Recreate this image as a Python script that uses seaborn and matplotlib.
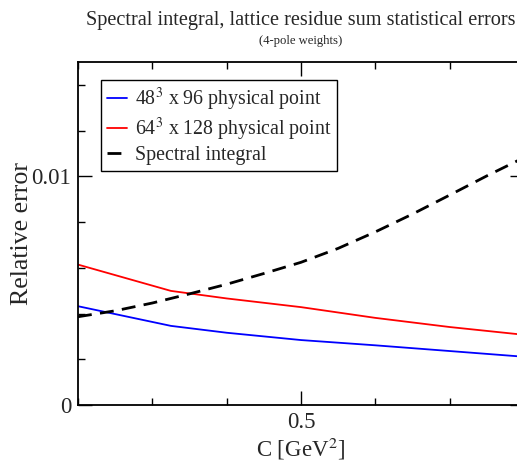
import matplotlib
matplotlib.use("Agg")
import matplotlib.pyplot as plt
from matplotlib.ticker import MultipleLocator, FixedLocator
import seaborn as sns
import pandas as pd

# ---- data ----
c_lattice = [0.2, 0.325, 0.4, 0.5, 0.6, 0.7, 0.8]
err_48 = [0.00432, 0.00346, 0.00316, 0.00284, 0.00261, 0.00236, 0.00211]
err_64 = [0.00614, 0.00499, 0.00466, 0.00428, 0.00381, 0.00341, 0.00307]
c_spec = [0.2, 0.25, 0.3, 0.35, 0.4, 0.45, 0.5, 0.55, 0.6, 0.65, 0.7, 0.75, 0.8]
err_spec = [0.00386, 0.00412, 0.00446, 0.00486, 0.00528, 0.00575, 0.00624,
            0.00685, 0.00757, 0.00835, 0.00918, 0.01002, 0.01082]

labels = ["48$^{3}$ x 96 physical point",
          "64$^{3}$ x 128 physical point",
          "Spectral integral"]
title_main = "Spectral integral, lattice residue sum statistical errors"
title_sub = "(4-pole weights)"
xlabel = "C [GeV$^{2}$]"
ylabel = "Relative error"

sns.set_style("ticks")
plt.rcParams["font.family"] = ["Liberation Serif", "DejaVu Serif"]
plt.rcParams["mathtext.fontset"] = "stix"

fig = plt.figure(figsize=(5.17, 4.68), dpi=100)
ax = fig.add_axes([78 / 517, 63 / 468, 446 / 517, 343 / 468])

df48 = pd.DataFrame({"C": c_lattice, "err": err_48})
df64 = pd.DataFrame({"C": c_lattice, "err": err_64})
dfs = pd.DataFrame({"C": c_spec, "err": err_spec})

sns.lineplot(data=df48, x="C", y="err", ax=ax, color="#0000ff", lw=1.3,
             label=labels[0])
sns.lineplot(data=df64, x="C", y="err", ax=ax, color="#ff0000", lw=1.3,
             label=labels[1])
sns.lineplot(data=dfs, x="C", y="err", ax=ax, color="black", lw=2.0,
             label=labels[2], dashes=False)
ax.lines[-1].set_dashes((5, 3))

ax.set_xlim(0.2, 0.8)
ax.set_ylim(0, 0.015)
ax.xaxis.set_major_locator(FixedLocator([0.5]))
ax.xaxis.set_minor_locator(MultipleLocator(0.1))
ax.yaxis.set_major_locator(FixedLocator([0, 0.01]))
ax.yaxis.set_minor_locator(MultipleLocator(0.002))
ax.set_xticklabels(["0.5"])
ax.set_yticklabels(["0", "0.01"])

ax.tick_params(which="both", direction="in", top=True, right=True,
               color="black", width=1.0)
ax.tick_params(which="major", length=10, labelsize=16.5, pad=5)
ax.tick_params(which="minor", length=5)
for s in ax.spines.values():
    s.set_linewidth(1.3)
    s.set_color("black")

ax.set_xlabel(xlabel, fontsize=16.5, labelpad=2)
ax.set_ylabel(ylabel, fontsize=18.6, labelpad=-1.5)

leg = ax.legend(loc="upper left", bbox_to_anchor=(23 / 446, (405 - 80) / 343),
                borderaxespad=0, fontsize=14.3, frameon=True, fancybox=False,
                framealpha=1, edgecolor="black", handlelength=1.0,
                handletextpad=0.4, labelspacing=0.15, borderpad=0.3)
leg.get_frame().set_linewidth(1.0)

cx = (78 + 524) / 2 / 517
fig.text(cx, 1 - 20 / 468, title_main, ha="center", va="center", fontsize=14.6)
fig.text(cx, 1 - 41 / 468, title_sub, ha="center", va="center", fontsize=9.1)

fig.savefig("out.png", dpi=100)
